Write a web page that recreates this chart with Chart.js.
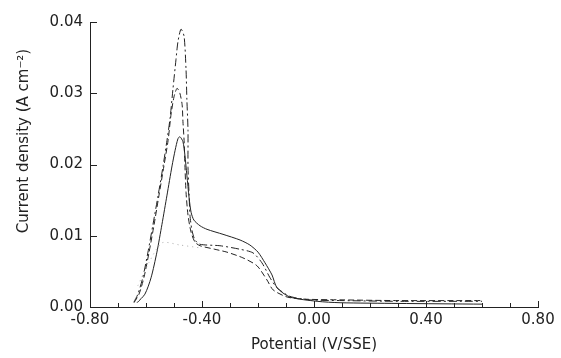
<!DOCTYPE html>
<html lang="en">
<head>
  <meta charset="UTF-8" />
  <title>Current density vs potential</title>
  <script src="https://cdn.jsdelivr.net/npm/chart.js"></script>
  <style>
    body {
      margin: 0;
      background: #fff;
    }
    .wrap {
      width: 561px;
      height: 358px;
    }
  </style>
</head>
<body>
  <div class="wrap"><canvas id="cv"></canvas></div>

  <script>
    // Potential (V/SSE) and current density (A cm-2)
    const dashDotX = [-0.643, -0.629, -0.611, -0.593, -0.575, -0.557, -0.539, -0.525, -0.514, -0.504, -0.493, -0.486, -0.475,
      -0.464, -0.457, -0.454, -0.450, -0.450, -0.446, -0.443, -0.436, -0.425, -0.407, -0.336, -0.264, -0.218, -0.186,
      -0.157, -0.132, -0.086, -0.014, 0.10, 0.30, 0.60];
    const dashDotY = [0.0007, 0.0018, 0.0042, 0.0077, 0.0116, 0.0156, 0.0198, 0.0234, 0.0265, 0.0305, 0.0347, 0.0372, 0.0390,
      0.0380, 0.0333, 0.0291, 0.0248, 0.0196, 0.0157, 0.0129, 0.0108, 0.0094, 0.0088, 0.0086, 0.0081, 0.0076, 0.0062,
      0.0041, 0.0027, 0.0015, 0.0010, 0.0009, 0.0008, 0.0008];

    const dashedX = [-0.643, -0.625, -0.607, -0.589, -0.571, -0.554, -0.536, -0.521, -0.511, -0.500, -0.489, -0.479, -0.471,
      -0.468, -0.464, -0.461, -0.457, -0.450, -0.439, -0.425, -0.407, -0.354, -0.311, -0.254, -0.204, -0.168, -0.146,
      -0.096, -0.032, 0.10, 0.30, 0.60];
    const dashedY = [0.0006, 0.0018, 0.0042, 0.0077, 0.0116, 0.0156, 0.0198, 0.0234, 0.0269, 0.0295, 0.0307, 0.0300, 0.0284,
      0.0260, 0.0234, 0.0199, 0.0161, 0.0129, 0.0105, 0.0091, 0.0086, 0.0081, 0.0077, 0.0069, 0.0058, 0.0038, 0.0024,
      0.0014, 0.0011, 0.0010, 0.0009, 0.0009];

    const solidX = [-0.632, -0.604, -0.582, -0.561, -0.543, -0.525, -0.507, -0.496, -0.486, -0.479, -0.468, -0.461, -0.454,
      -0.446, -0.439, -0.429, -0.407, -0.382, -0.325, -0.264, -0.229, -0.200, -0.175, -0.150, -0.132, -0.086, 0.011,
      0.093, 0.30, 0.60];
    const solidY = [0.0006, 0.0018, 0.0041, 0.0077, 0.0116, 0.0157, 0.0198, 0.0220, 0.0236, 0.0239, 0.0232, 0.0213, 0.0185,
      0.0153, 0.0133, 0.0122, 0.0114, 0.0109, 0.0102, 0.0094, 0.0087, 0.0077, 0.0062, 0.0045, 0.0027, 0.0014, 0.0008,
      0.0006, 0.0005, 0.0004];

    // faint dotted trace near the foot of the peak
    const dottedX = [-0.629, -0.590, -0.543, -0.479, -0.407];
    const dottedY = [0.0030, 0.0062, 0.0090, 0.0087, 0.0083];

    const xTicks = [-0.8, -0.4, 0, 0.4, 0.8];
    const yTicks = [0, 0.01, 0.02, 0.03, 0.04];
    const yTitle = 'Current density (A cm\u207B\u00B2)';

    const toPoints = (xs, ys) => xs.map((x, i) => ({ x: x, y: ys[i] }));

    const ink = '#222';
    const font = { family: 'DejaVu Sans', size: 15 };

    // small inward tick marks like the original figure, plus the y title
    // (which sits a bit above the middle of the axis in the original)
    const axisExtras = {
      id: 'axisExtras',
      afterDraw(chart) {
        const { ctx, chartArea, scales } = chart;
        ctx.save();
        ctx.strokeStyle = ink;
        ctx.lineWidth = 1;
        ctx.beginPath();
        for (let i = -8; i <= 8; i++) {
          const px = Math.round(scales.x.getPixelForValue(i / 10)) + 0.5;
          const len = i % 4 === 0 ? 6 : 4;
          ctx.moveTo(px, chartArea.bottom);
          ctx.lineTo(px, chartArea.bottom - len);
        }
        yTicks.forEach(v => {
          const py = Math.round(scales.y.getPixelForValue(v)) + 0.5;
          ctx.moveTo(chartArea.left, py);
          ctx.lineTo(chartArea.left + 7, py);
        });
        ctx.stroke();

        ctx.translate(24, scales.y.getPixelForValue(0.0233));
        ctx.rotate(-Math.PI / 2);
        ctx.fillStyle = ink;
        ctx.font = '15px "DejaVu Sans"';
        ctx.textAlign = 'center';
        ctx.textBaseline = 'middle';
        ctx.fillText(yTitle, 0, 0);
        ctx.restore();
      }
    };

    const lineSet = (label, pts, dash, color) => ({
      label: label,
      data: pts,
      showLine: true,
      borderColor: color,
      borderWidth: 1,
      borderDash: dash,
      pointRadius: 0,
      tension: 0.25,
      fill: false
    });

    new Chart(document.getElementById('cv'), {
      type: 'scatter',
      data: {
        datasets: [
          lineSet('dotted', toPoints(dottedX, dottedY), [1, 4], '#aaa'),
          lineSet('solid', toPoints(solidX, solidY), [], ink),
          lineSet('dashed', toPoints(dashedX, dashedY), [6, 3], ink),
          lineSet('dash-dot', toPoints(dashDotX, dashDotY), [8, 3, 2, 3], ink)
        ]
      },
      options: {
        responsive: true,
        maintainAspectRatio: false,
        animation: false,
        layout: { padding: { left: 0, top: 22, right: 23, bottom: 0 } },
        plugins: {
          legend: { display: false },
          tooltip: { enabled: false }
        },
        scales: {
          x: {
            type: 'linear',
            min: -0.8,
            max: 0.8,
            afterFit: s => { s.height = 51; },
            afterBuildTicks: s => { s.ticks = xTicks.map(v => ({ value: v })); },
            grid: { display: false, drawTicks: false },
            border: { display: true, color: ink, width: 1 },
            ticks: {
              color: ink,
              font: font,
              padding: 4,
              maxRotation: 0,
              callback: v => v.toFixed(2)
            },
            title: {
              display: true,
              text: 'Potential (V/SSE)',
              color: ink,
              font: font,
              padding: { top: 0, bottom: 4 }
            }
          },
          y: {
            type: 'linear',
            min: 0,
            max: 0.04,
            afterFit: s => { s.width = 90; },
            afterBuildTicks: s => { s.ticks = yTicks.map(v => ({ value: v })); },
            grid: { display: false, drawTicks: false },
            border: { display: true, color: ink, width: 1 },
            ticks: {
              color: ink,
              font: font,
              padding: 7,
              callback: v => v.toFixed(2)
            }
          }
        }
      },
      plugins: [axisExtras]
    });
  </script>
</body>
</html>
